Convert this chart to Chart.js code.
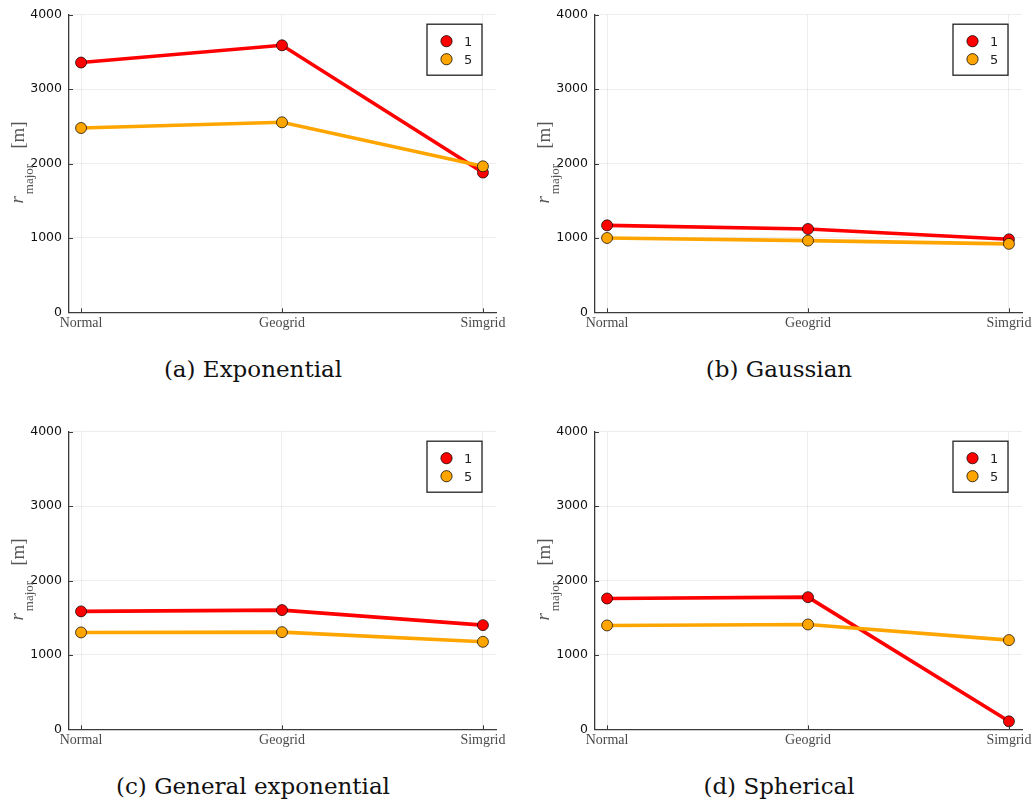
<!DOCTYPE html>
<html>
<head>
<meta charset="utf-8">
<script src="https://cdn.jsdelivr.net/npm/chart.js@4.4.1/dist/chart.umd.min.js"></script>
<style>
  html, body { margin: 0; padding: 0; background: #fff; }
  #wrap { position: relative; width: 1035px; height: 807px; overflow: hidden; background: #fff; }
  .cv { position: absolute; }
  .cap { position: absolute; width: 420px; text-align: center; font-family: "DejaVu Serif", "Liberation Serif", serif; font-size: 23px; line-height: 26px; color: #111; }
</style>
</head>
<body>
<div id="wrap">
  <canvas id="cA" class="cv" width="517" height="340" style="left:0px;top:0px;width:517px;height:340px"></canvas>
  <canvas id="cB" class="cv" width="517" height="340" style="left:526px;top:0px;width:517px;height:340px"></canvas>
  <canvas id="cC" class="cv" width="517" height="340" style="left:0px;top:417px;width:517px;height:340px"></canvas>
  <canvas id="cD" class="cv" width="517" height="340" style="left:526px;top:417px;width:517px;height:340px"></canvas>
  <div class="cap" style="left:43px;top:356px">(a) Exponential</div>
  <div class="cap" style="left:569px;top:356px">(b) Gaussian</div>
  <div class="cap" style="left:43px;top:773px">(c) General exponential</div>
  <div class="cap" style="left:569px;top:773px">(d) Spherical</div>
</div>
<script>
// ---- data ----
const categories = ["Normal", "Geogrid", "Simgrid"];
const seriesLabels = ["1", "5"];
const yTicks = [0, 1000, 2000, 3000, 4000];

const expRed    = [3357, 3589, 1878];
const expOrange = [2477, 2554, 1962];

const gauRed    = [1169, 1120, 981];
const gauOrange = [999, 964, 920];

const genRed    = [1585, 1602, 1400];
const genOrange = [1302, 1306, 1176];

const sphRed    = [1758, 1776, 107];
const sphOrange = [1396, 1409, 1199];

// ---- styling ----
const RED = "#ff0000";
const ORANGE = "#ffa500";
const AXIS = "#3a3a3a";

const yTitlePlugin = {
  id: "yTitle",
  afterDraw(chart) {
    const ctx = chart.ctx;
    const a = chart.chartArea;
    const cy = (a.top + a.bottom) / 2;
    ctx.save();
    ctx.translate(a.left - 46, cy);
    ctx.rotate(-Math.PI / 2);
    ctx.fillStyle = "#555";
    ctx.textBaseline = "alphabetic";
    const fR = "italic 19px 'Liberation Serif', serif";
    const fS = "13px 'Liberation Serif', serif";
    const fM = "19px 'Liberation Serif', serif";
    ctx.font = fR; const wR = ctx.measureText("r").width;
    ctx.font = fS; const wS = ctx.measureText("major").width;
    ctx.font = fM; const wM = ctx.measureText("[m]").width;
    const gap1 = 2, gap2 = 15;
    const total = wR + gap1 + wS + gap2 + wM;
    let x = -total / 2 + 1;
    ctx.font = fR; ctx.fillText("r", x, 0); x += wR + gap1;
    ctx.font = fS; ctx.fillText("major", x, 10); x += wS + gap2;
    ctx.font = fM; ctx.fillText("[m]", x, 1);
    ctx.restore();
  }
};

const ticksPlugin = {
  id: "innerTicks",
  afterDatasetsDraw(chart) {
    const ctx = chart.ctx;
    const a = chart.chartArea;
    const xs = chart.scales.x, ys = chart.scales.y;
    ctx.save();
    ctx.strokeStyle = AXIS;
    ctx.lineWidth = 1;
    xs.ticks.forEach(t => {
      const px = Math.round(xs.getPixelForValue(t.value)) + 0.5;
      ctx.beginPath(); ctx.moveTo(px, a.bottom); ctx.lineTo(px, a.bottom - 4); ctx.stroke();
    });
    ys.ticks.forEach(t => {
      const py = Math.round(ys.getPixelForValue(t.value)) + 0.5;
      ctx.beginPath(); ctx.moveTo(a.left, py); ctx.lineTo(a.left + 4, py); ctx.stroke();
    });
    ctx.restore();
  }
};

const legendPlugin = {
  id: "boxLegend",
  afterDraw(chart) {
    const ctx = chart.ctx;
    const a = chart.chartArea;
    const w = 55, h = 51;
    const left = a.right - 14 - w, top = a.top + 9.5;
    ctx.save();
    ctx.fillStyle = "#fff";
    ctx.fillRect(left, top, w, h);
    ctx.strokeStyle = "#222";
    ctx.lineWidth = 1.3;
    ctx.strokeRect(left, top, w, h);
    chart.data.datasets.slice().sort((p, q) => p._idx - q._idx).forEach((ds, i) => {
      const cy = top + 17 + i * 18;
      ctx.beginPath();
      ctx.arc(left + 19.5, cy, 5.6, 0, Math.PI * 2);
      ctx.fillStyle = ds.pointBackgroundColor;
      ctx.fill();
      ctx.lineWidth = 1;
      ctx.strokeStyle = "rgba(0,0,0,0.75)";
      ctx.stroke();
      ctx.fillStyle = "#222";
      ctx.font = "13px 'DejaVu Sans', sans-serif";
      ctx.textBaseline = "middle";
      ctx.textAlign = "left";
      ctx.fillText(ds.label, left + 37, cy + 1);
    });
    ctx.restore();
  }
};

function makeDataset(label, values, color, idx) {
  return {
    label: label,
    _idx: idx,
    order: idx === 0 ? 1 : 0,
    data: values.map((v, i) => ({ x: i, y: v })),
    borderColor: color,
    backgroundColor: color,
    borderWidth: 3.6,
    pointRadius: 5.5,
    pointHoverRadius: 5.5,
    pointBackgroundColor: color,
    pointBorderColor: "rgba(0,0,0,0.7)",
    pointBorderWidth: 1,
    tension: 0,
    fill: false
  };
}

function makeChart(id, red, orange) {
  const ctx = document.getElementById(id);
  return new Chart(ctx, {
    type: "line",
    data: {
      datasets: [
        makeDataset(seriesLabels[0], red, RED, 0),
        makeDataset(seriesLabels[1], orange, ORANGE, 1)
      ]
    },
    options: {
      responsive: false,
      animation: false,
      devicePixelRatio: 1,
      layout: { padding: { top: 14.7, right: 21, bottom: 0, left: 0 } },
      plugins: { legend: { display: false }, tooltip: { enabled: false } },
      scales: {
        x: {
          type: "linear",
          min: -0.06,
          max: 2.065,
          afterBuildTicks(scale) { scale.ticks = categories.map((c, i) => ({ value: i })); },
          afterFit(scale) { scale.height = 340 - 312.3; },
          grid: { color: "rgba(0,0,0,0.07)", lineWidth: 1, drawTicks: false },
          border: { display: true, color: AXIS, width: 1.3 },
          ticks: {
            autoSkip: false,
            maxRotation: 0,
            padding: 3,
            color: "#4a4a4a",
            font: { family: "'Liberation Serif', serif", size: 14 },
            callback: (v) => categories[v]
          }
        },
        y: {
          min: 0,
          max: 4000,
          afterBuildTicks(scale) { scale.ticks = yTicks.map(v => ({ value: v })); },
          afterFit(scale) { scale.width = 69; },
          grid: { color: "rgba(0,0,0,0.07)", lineWidth: 1, drawTicks: false },
          border: { display: true, color: AXIS, width: 1.3 },
          ticks: {
            padding: 7,
            color: "#111",
            font: { family: "'DejaVu Sans', sans-serif", size: 12.5 },
            callback: (v) => String(v)
          }
        }
      }
    },
    plugins: [ticksPlugin, yTitlePlugin, legendPlugin]
  });
}

makeChart("cA", expRed, expOrange);
makeChart("cB", gauRed, gauOrange);
makeChart("cC", genRed, genOrange);
makeChart("cD", sphRed, sphOrange);
</script>
</body>
</html>
